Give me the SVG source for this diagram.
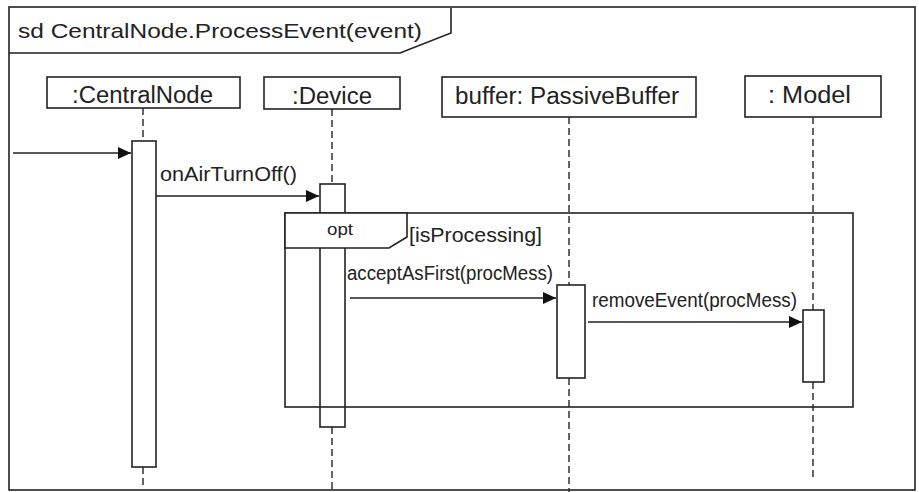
<svg xmlns="http://www.w3.org/2000/svg" width="919" height="492" viewBox="0 0 919 492">
<defs>
<style>
.ln{stroke:#222;stroke-width:1.6;fill:none}
.box{stroke:#222;stroke-width:1.6;fill:#fff}
.life{stroke:#333;stroke-width:1.5;stroke-dasharray:7 4;fill:none}
.msg{stroke:#222;stroke-width:1.6;fill:none;marker-end:url(#ah)}
text{font-family:"Liberation Sans",Arial,sans-serif;fill:#222}
.lbl{font-size:23px}
.m{font-size:20px}
</style>
<marker id="ah" markerUnits="userSpaceOnUse" markerWidth="14" markerHeight="14" refX="13" refY="6" orient="auto">
<path d="M0,0 L13,6 L0,12 Z" fill="#111"/>
</marker>
</defs>
<rect width="919" height="492" fill="#fff"/>
<g id="frame">
<rect x="9" y="7" width="906" height="483" class="ln"/>
<path d="M9,53 L400,53 L451,33 L451,8" class="ln"/>
<text x="18" y="38" font-size="21" textLength="404" lengthAdjust="spacingAndGlyphs">sd CentralNode.ProcessEvent(event)</text>
</g>
<g id="lifelines">
<line x1="143" y1="108" x2="143" y2="141" class="life"/>
<line x1="143" y1="467" x2="143" y2="486" class="life"/>
<line x1="332" y1="109" x2="332" y2="184" class="life"/>
<line x1="332" y1="427" x2="332" y2="492" class="life"/>
<line x1="569" y1="117" x2="569" y2="285" class="life"/>
<line x1="569" y1="378" x2="569" y2="492" class="life"/>
<line x1="813" y1="117" x2="813" y2="310" class="life"/>
<line x1="813" y1="382" x2="813" y2="480" class="life"/>
</g>
<g id="centralnode">
<rect x="47" y="77" width="193" height="31" class="box"/>
<text x="72" y="103" class="lbl" textLength="141" lengthAdjust="spacingAndGlyphs">:CentralNode</text>
<rect x="132" y="141" width="24" height="326" class="box"/>
</g>
<g id="device">
<rect x="264" y="77" width="136" height="32" class="box"/>
<text x="292" y="104" class="lbl" textLength="80" lengthAdjust="spacingAndGlyphs">:Device</text>
<rect x="320" y="184" width="25" height="243" class="box"/>
</g>
<g id="buffer">
<rect x="442" y="77" width="254" height="40" class="box"/>
<text x="455" y="104" class="lbl" textLength="224" lengthAdjust="spacingAndGlyphs">buffer: PassiveBuffer</text>
<rect x="557" y="285" width="28" height="93" class="box"/>
</g>
<g id="model">
<rect x="745" y="76" width="136" height="41" class="box"/>
<text x="768" y="103" class="lbl" textLength="83" lengthAdjust="spacingAndGlyphs">: Model</text>
<rect x="803" y="310" width="21" height="72" class="box"/>
</g>
<g id="opt">
<rect x="285" y="213" width="568" height="194" class="ln"/>
<path d="M285,213 L407,213 L407,237 L389,248 L285,248 Z" class="box"/>
<text x="327" y="235" font-size="17" textLength="26" lengthAdjust="spacingAndGlyphs">opt</text>
<text x="409" y="242" class="m" textLength="133" lengthAdjust="spacingAndGlyphs">[isProcessing]</text>
</g>
<g id="connectors">
<line x1="13" y1="153" x2="131" y2="153" class="msg"/>
<line x1="156" y1="196" x2="319" y2="196" class="msg"/>
<line x1="350" y1="298" x2="556" y2="298" class="msg"/>
<line x1="588" y1="322" x2="802" y2="322" class="msg"/>
<text x="160" y="181" class="m" textLength="137" lengthAdjust="spacingAndGlyphs">onAirTurnOff()</text>
<text x="347" y="280" class="m" textLength="206" lengthAdjust="spacingAndGlyphs">acceptAsFirst(procMess)</text>
<text x="592" y="307" class="m" textLength="205" lengthAdjust="spacingAndGlyphs">removeEvent(procMess)</text>
</g>
</svg>
